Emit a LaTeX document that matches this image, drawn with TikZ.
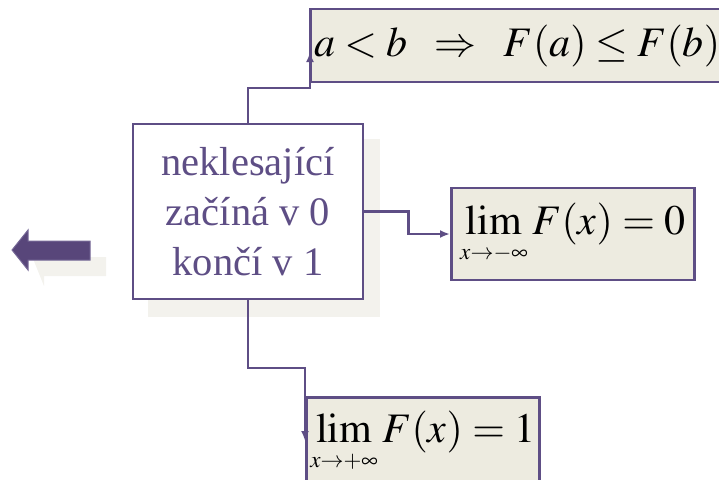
\documentclass[tikz,border=0pt]{standalone}
\usepackage{mathptmx}
\usepackage[no-math]{fontspec}
\setmainfont{Liberation Serif}
\DeclareMathSizes{42}{42}{23}{17}
\usetikzlibrary{arrows.meta,calc,positioning}
\definecolor{BoxPurple}{RGB}{94,78,133}
\definecolor{ArrowPurple}{RGB}{88,70,122}
\definecolor{BoxBeige}{RGB}{237,235,224}
\definecolor{ShadeGray}{RGB}{243,242,237}

\begin{document}
\begin{tikzpicture}[x=1pt,y=-1pt,
  frame/.style={draw=BoxPurple,line width=2.5pt},
  formula/.style={frame,fill=BoxBeige,inner xsep=4pt,font=\fontsize{42}{50}\selectfont},
  conn/.style={draw=BoxPurple,line width=2.5pt,-{Latex[length=10pt,width=8pt]}}]
  \useasboundingbox (0,0) rectangle (719,479);
  \fill[ShadeGray] (148,139) rectangle (380,317);
  \node[frame,fill=white,minimum width=230pt,minimum height=175pt,align=center,
    text=BoxPurple,font=\fontsize{40.5}{50}\selectfont] (main) at (248,211.5)
    {neklesající\\začíná v 0\\končí v 1};
  \node[formula,anchor=west,minimum height=73pt,text width=406pt,align=left] (mono) at (309,45.5)
    {$a<b\mkern8mu\Rightarrow\;\;F(a)\le F(b)$};
  \node[formula,anchor=west,minimum height=92pt,minimum width=243pt] (lim0) at (450,234)
    {$\displaystyle\lim_{x\to-\infty}F(x)=0$};
  \node[formula,anchor=north west,minimum height=90pt,minimum width=229pt] (lim1) at (305,396)
    {$\displaystyle\lim_{x\to+\infty}F(x)=1$};
  \coordinate (topturn) at (310,88);
  \coordinate (toptip) at (310,52);
  \coordinate (botturn) at (305,368);
  \coordinate (bottip) at (305,441);
  \draw[conn] (main.north) |- (topturn) -- (toptip);
  \draw[conn] (main.east) -- ++(44,0) |- (lim0.west);
  \draw[conn] (main.south) |- (botturn) -- (bottip);
  \fill[ShadeGray] (28,246) -- (44,246) -- (44,257) -- (106,257) -- (106,276)
    -- (44,276) -- (44,286) -- cycle;
  \filldraw[fill=ArrowPurple,draw=BoxPurple!85,line width=1pt] (12,250) -- (28,230)
    -- (28,241) -- (90,241) -- (90,260) -- (28,260) -- (28,270) -- cycle;
\end{tikzpicture}
\end{document}
